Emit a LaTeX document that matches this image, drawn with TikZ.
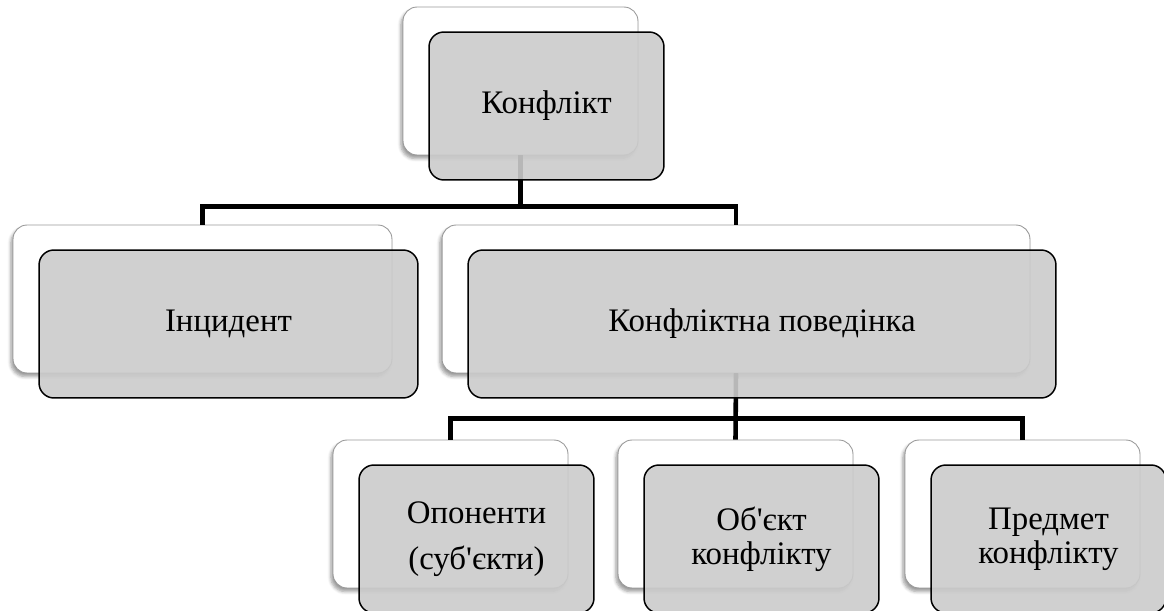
\documentclass[tikz,border=0pt]{standalone}
\usepackage{fontspec}
\setmainfont{Liberation Serif}
\usepackage{tikz}
\usetikzlibrary{shadows.blur}
\definecolor{frontGray}{RGB}{203,203,203}
\tikzset{
    backBox/.style={
        rectangle,
        rounded corners=8pt,
        draw=black!40,
        line width=0.5pt,
        fill=white,
        blur shadow={shadow xshift=-1.2pt, shadow yshift=-2pt, shadow blur steps=5, shadow opacity=40},
        minimum height=2.96cm
    },
    frontBox/.style={
        rectangle,
        rounded corners=8.5pt,
        draw=black,
        line width=0.85pt,
        fill=frontGray,
        fill opacity=0.9,
        text opacity=1,
        align=center,
        font=\fontsize{18.7}{19.5}\selectfont,
        minimum height=2.96cm
    },
    branch/.style={
        line width=2.6pt,
        line join=miter
    }
}

\begin{document}
\begin{tikzpicture}[x=0.02cm, y=-0.02cm]
            \clip (0,0) rectangle (1164,611);
            
            % Back boxes
            \node[backBox, minimum width=4.7cm] (BackTop) at (520.5,81) {};
            \node[backBox, minimum width=7.58cm] (BackInc) at (202.5,299) {};
            \node[backBox, minimum width=11.76cm] (BackBeh) at (736,299) {};
            \node[backBox, minimum width=4.7cm] (BackOpp) at (450.5,514) {};
            \node[backBox, minimum width=4.7cm] (BackObj) at (735.5,514) {};
            \node[backBox, minimum width=4.7cm] (BackSub) at (1022.5,514) {};
            
            % Branches
            \draw[branch] (BackTop.south) -- ++(0,51) -| (BackInc.north);
            \draw[branch] (BackTop.south) -- ++(0,51) -| (BackBeh.north);
            \draw[branch] (BackBeh.south) -- ++(0,45) -| (BackOpp.north);
            \draw[branch] (BackBeh.south) -- (BackObj.north);
            \draw[branch] (BackBeh.south) -- ++(0,45) -| (BackSub.north);
            
            % Front boxes
            \node[frontBox, minimum width=4.7cm] (FrontTop) at ([shift={(26,25)}]BackTop.center) {Конфлікт};
            \node[frontBox, minimum width=7.58cm] (FrontInc) at ([shift={(26,25)}]BackInc.center) {Інцидент};
            \node[frontBox, minimum width=11.76cm] (FrontBeh) at ([shift={(26,25)}]BackBeh.center) {Конфліктна поведінка};
            \node[frontBox, minimum width=4.7cm] (FrontOpp) at ([shift={(26,25)}]BackOpp.center) {Опоненти\\[7pt](суб\textquotesingle єкти)};
            \node[frontBox, minimum width=4.7cm] (FrontObj) at ([shift={(26,25)}]BackObj.center) {Об\textquotesingle єкт\\конфлікту};
            \node[frontBox, minimum width=4.7cm] (FrontSub) at ([shift={(26,25)}]BackSub.center) {Предмет\\конфлікту};
        \end{tikzpicture}
\end{document}
